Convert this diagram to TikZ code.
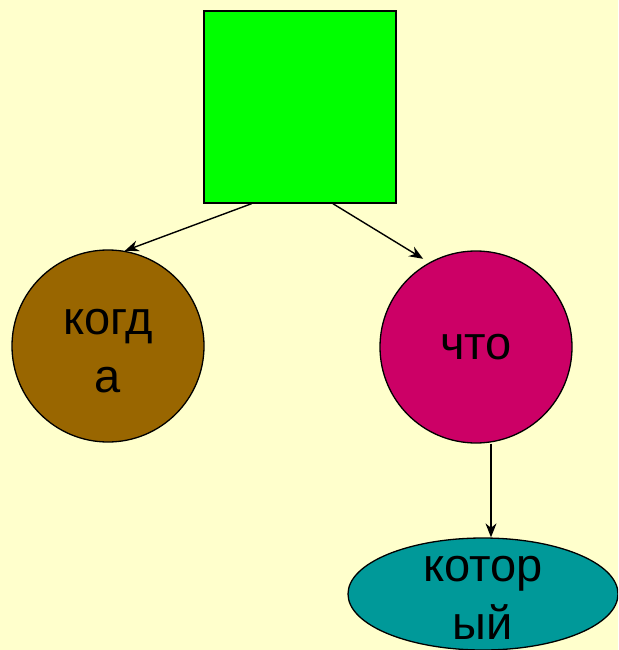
\documentclass[tikz,border=0pt]{standalone}
\usepackage{fontspec}
\setmainfont{Liberation Sans}
\usetikzlibrary{shapes.geometric,arrows.meta,calc}
\begin{document}
\begin{tikzpicture}[x=1pt,y=-1pt,
  shape outline/.style={draw=black,line width=1.3pt},
  lbl/.style={font=\fontsize{47}{58}\selectfont,align=center,text=black,inner sep=0pt},
  conn/.style={draw=black,line width=1.4pt,-{Stealth[length=14pt,width=11pt]}}]
\useasboundingbox[fill={rgb,255:red,255;green,255;blue,204}] (0,0) rectangle (618,650);
\clip (0,0) rectangle (618,650);
\node[shape outline,fill={rgb,255:red,0;green,255;blue,0},minimum width=192pt,minimum height=192pt,inner sep=0pt] (sq) at (300,107) {};
\node[shape outline,circle,fill={rgb,255:red,153;green,102;blue,0},minimum size=192pt,inner sep=0pt] (c1) at (108,346) {};
\node[lbl] (t1) at (108,351) {когд\\а};
\node[shape outline,circle,fill={rgb,255:red,204;green,0;blue,102},minimum size=192pt,inner sep=0pt] (c2) at (476,347) {};
\node[lbl] (t2) at (476,347) {что};
\node[shape outline,ellipse,fill={rgb,255:red,0;green,153;blue,153},minimum width=270pt,minimum height=112pt,inner sep=0pt] (e1) at (483,594) {};
\node[lbl] (t3) at (483,598) {котор\\ый};
\draw[conn] ($(sq.south west)!0.25!(sq.south east)$) -- (c1.80);
\draw[conn,shorten >=7pt] ($(sq.south west)!0.67!(sq.south east)$) -- (c2.119);
\draw[conn] (c2.south -| 491,0) -- (e1.north -| 491,0);
\end{tikzpicture}
\end{document}
